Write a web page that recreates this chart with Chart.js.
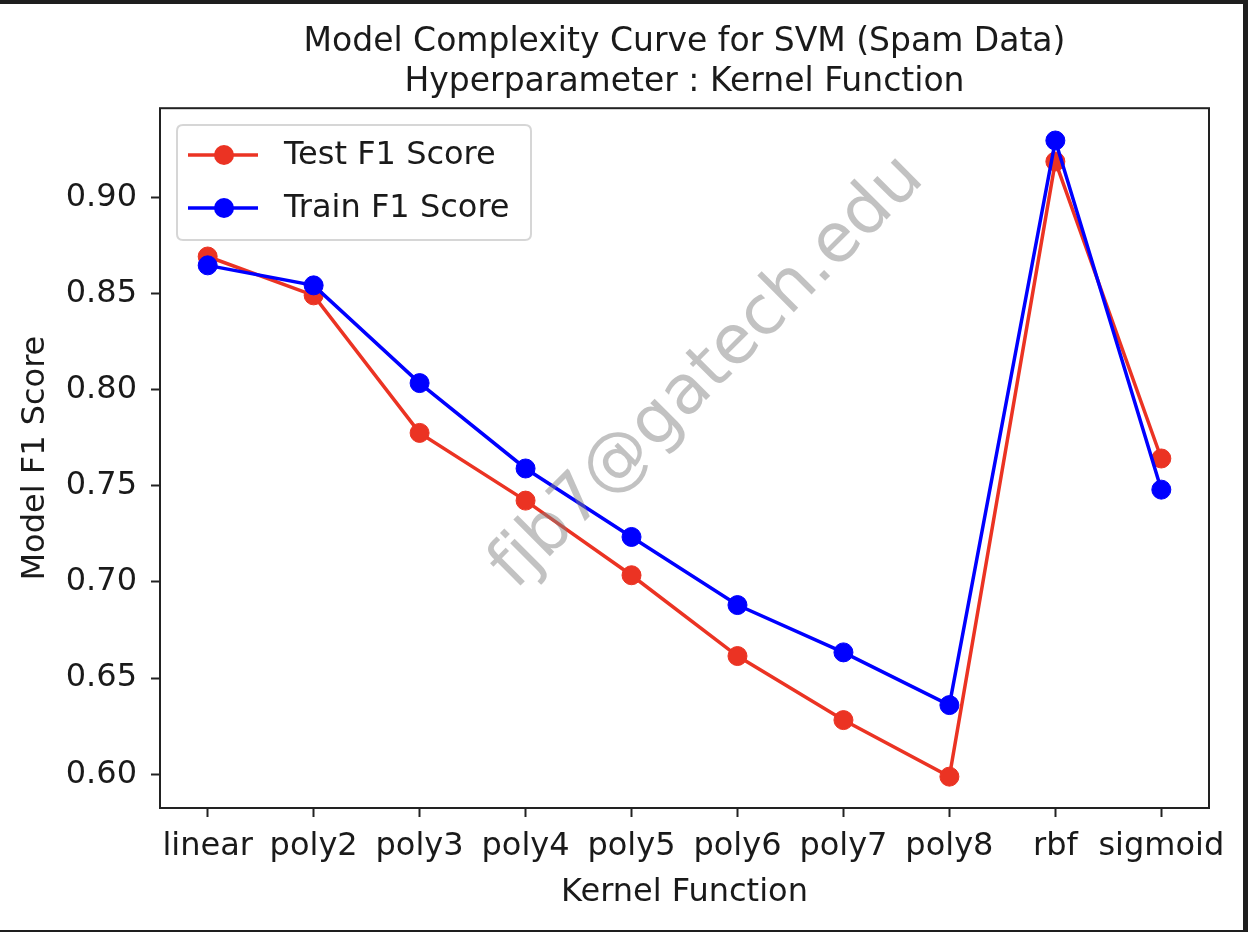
<!DOCTYPE html>
<html>
<head>
<meta charset="utf-8">
<script src="https://cdn.jsdelivr.net/npm/chart.js@4.4.1/dist/chart.umd.min.js"></script>
<style>
html,body{margin:0;padding:0;background:#fff;overflow:hidden}
#wrap{position:relative;width:1248px;height:932px}
</style>
</head>
<body>
<div id="wrap"><canvas id="c"></canvas></div>
<script>
const categories = ['linear','poly2','poly3','poly4','poly5','poly6','poly7','poly8','rbf','sigmoid'];
const testF1  = [0.8692, 0.8490, 0.7775, 0.7423, 0.7035, 0.6615, 0.6282, 0.5988, 0.9186, 0.7642];
const trainF1 = [0.8646, 0.8542, 0.8034, 0.7590, 0.7234, 0.6880, 0.6634, 0.6360, 0.9295, 0.7480];
const yTickValues = [0.60, 0.65, 0.70, 0.75, 0.80, 0.85, 0.90];
const titleLines = ['Model Complexity Curve for SVM (Spam Data)', 'Hyperparameter : Kernel Function'];
const xAxisLabel = 'Kernel Function';
const yAxisLabel = 'Model F1 Score';
const seriesLabels = ['Test F1 Score', 'Train F1 Score'];
const watermarkText = 'fjb7@gatech.edu';

const FONT = "'DejaVu Sans', sans-serif";
const RED = '#eb3323';
const BLUE = '#0000ff';
const INK = '#1a1a1a';

const toPoints = arr => arr.map((v, i) => ({x: i, y: v}));

const decorPlugin = {
  id: 'decor',
  beforeDraw(chart) {
    const ctx = chart.ctx;
    ctx.save();
    ctx.fillStyle = '#ffffff';
    ctx.fillRect(0, 0, chart.width, chart.height);
    ctx.restore();
  },
  afterDraw(chart) {
    const ctx = chart.ctx;
    const a = chart.chartArea;
    ctx.save();
    // axes frame
    ctx.strokeStyle = '#222222';
    ctx.lineWidth = 2;
    ctx.strokeRect(a.left, a.top, a.right - a.left, a.bottom - a.top);

    // legend
    const lx = 177, ly = 125, lw = 354, lh = 115, r = 6;
    ctx.beginPath();
    ctx.moveTo(lx + r, ly);
    ctx.lineTo(lx + lw - r, ly);
    ctx.quadraticCurveTo(lx + lw, ly, lx + lw, ly + r);
    ctx.lineTo(lx + lw, ly + lh - r);
    ctx.quadraticCurveTo(lx + lw, ly + lh, lx + lw - r, ly + lh);
    ctx.lineTo(lx + r, ly + lh);
    ctx.quadraticCurveTo(lx, ly + lh, lx, ly + lh - r);
    ctx.lineTo(lx, ly + r);
    ctx.quadraticCurveTo(lx, ly, lx + r, ly);
    ctx.closePath();
    ctx.fillStyle = 'rgba(255,255,255,0.8)';
    ctx.fill();
    ctx.strokeStyle = '#d6d6d6';
    ctx.lineWidth = 2;
    ctx.stroke();
    const legendOrder = [0, 1];
    const rows = [155, 208];
    legendOrder.forEach((di, k) => {
      const ds = chart.data.datasets[di];
      const y = rows[k];
      ctx.strokeStyle = ds.borderColor;
      ctx.lineWidth = 3.5;
      ctx.beginPath();
      ctx.moveTo(188, y);
      ctx.lineTo(258, y);
      ctx.stroke();
      ctx.fillStyle = ds.borderColor;
      ctx.beginPath();
      ctx.arc(224, y, 10, 0, Math.PI * 2);
      ctx.fill();
      ctx.fillStyle = INK;
      ctx.font = '32px ' + FONT;
      ctx.textAlign = 'left';
      ctx.textBaseline = 'middle';
      ctx.fillText(ds.label, 284, y + 1);
    });

    // watermark
    ctx.save();
    ctx.translate(708, 373);
    ctx.rotate(-45 * Math.PI / 180);
    ctx.font = '68px ' + FONT;
    ctx.fillStyle = 'rgba(128,128,128,0.48)';
    ctx.textAlign = 'center';
    ctx.textBaseline = 'middle';
    ctx.fillText(watermarkText, 0, 0);
    ctx.restore();

    // screenshot edge bands
    ctx.fillStyle = '#1e1e1e';
    ctx.fillRect(0, 0, chart.width, 4);
    ctx.fillRect(1243, 0, chart.width - 1243, chart.height);
    ctx.fillRect(0, 930, chart.width, chart.height - 930);
    ctx.restore();
  }
};

new Chart(document.getElementById('c'), {
  type: 'line',
  data: {
    datasets: [
      {
        label: seriesLabels[0],
        data: toPoints(testF1),
        borderColor: RED,
        backgroundColor: RED,
        pointBackgroundColor: RED,
        pointBorderColor: RED,
        borderWidth: 3.5,
        pointRadius: 9.5,
        pointBorderWidth: 1,
        pointHoverRadius: 9.5,
        tension: 0,
        fill: false,
        order: 1,
        clip: false
      },
      {
        label: seriesLabels[1],
        data: toPoints(trainF1),
        borderColor: BLUE,
        backgroundColor: BLUE,
        pointBackgroundColor: BLUE,
        pointBorderColor: BLUE,
        borderWidth: 3.5,
        pointRadius: 9.5,
        pointBorderWidth: 1,
        pointHoverRadius: 9.5,
        tension: 0,
        fill: false,
        order: 0,
        clip: false
      }
    ]
  },
  options: {
    responsive: true,
    maintainAspectRatio: false,
    animation: false,
    events: [],
    layout: { padding: { left: 0, right: 39, top: 0, bottom: 0 } },
    plugins: {
      legend: { display: false },
      tooltip: { enabled: false },
      title: {
        display: true,
        text: titleLines,
        fullSize: false,
        align: 'center',
        color: INK,
        font: { family: FONT, size: 33, weight: 'normal', lineHeight: 1.2 },
        padding: { top: 23, bottom: 6 }
      }
    },
    scales: {
      x: {
        type: 'linear',
        min: -0.45,
        max: categories.length - 1 + 0.45,
        afterBuildTicks(scale) { scale.ticks = categories.map((c, i) => ({ value: i })); },
        afterFit(scale) { scale.height = 124; },
        ticks: {
          autoSkip: false,
          maxRotation: 0,
          padding: 10,
          color: INK,
          font: { family: FONT, size: 32 },
          callback: (v) => categories[v]
        },
        grid: { display: true, drawOnChartArea: false, drawTicks: true, tickLength: 9, tickWidth: 2, tickColor: '#222222' },
        border: { display: false },
        title: {
          display: true,
          text: xAxisLabel,
          color: INK,
          font: { family: FONT, size: 32 },
          padding: { top: 0, bottom: 20 }
        }
      },
      y: {
        type: 'linear',
        min: 0.5825,
        max: 0.9463,
        afterBuildTicks(scale) { scale.ticks = yTickValues.map(v => ({ value: v })); },
        afterFit(scale) { scale.width = 160; },
        ticks: {
          padding: 14,
          color: INK,
          font: { family: FONT, size: 32 },
          callback: (v) => Number(v).toFixed(2)
        },
        grid: { display: true, drawOnChartArea: false, drawTicks: true, tickLength: 9, tickWidth: 2, tickColor: '#222222' },
        border: { display: false },
        title: {
          display: true,
          text: yAxisLabel,
          color: INK,
          font: { family: FONT, size: 32 },
          padding: { top: 16, bottom: 0 }
        }
      }
    }
  },
  plugins: [decorPlugin]
});
</script>
</body>
</html>
